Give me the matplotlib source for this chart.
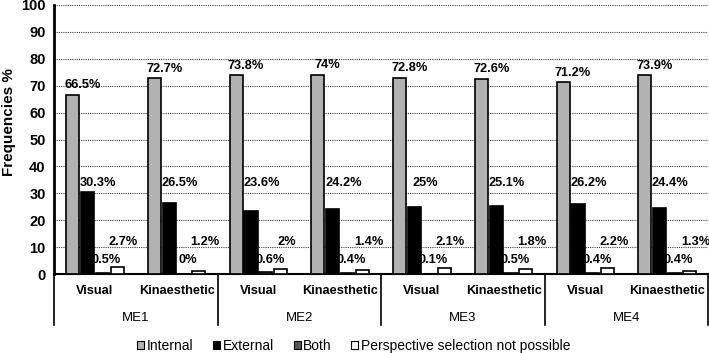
import matplotlib
matplotlib.use("Agg")
import matplotlib.pyplot as plt
import numpy as np

plt.rcParams['font.family'] = ['Liberation Sans', 'DejaVu Sans']

groups = ["ME1", "ME2", "ME3", "ME4"]
subcats = ["Visual", "Kinaesthetic"]
series = ["Internal", "External", "Both", "Perspective selection not possible"]
internal = [66.5, 72.7, 73.8, 74, 72.8, 72.6, 71.2, 73.9]
external = [30.3, 26.5, 23.6, 24.2, 25, 25.1, 26.2, 24.4]
both = [0.5, 0, 0.6, 0.4, 0.1, 0.5, 0.4, 0.4]
perspective = [2.7, 1.2, 2, 1.4, 2.1, 1.8, 2.2, 1.3]
yticks = [0, 10, 20, 30, 40, 50, 60, 70, 80, 90, 100]

values = [internal, external, both, perspective]
colors = ["#b2b2b2", "#000000", "#595959", "#ffffff"]

fig = plt.figure(figsize=(7.09, 3.53), dpi=100)
ax = fig.add_axes([54/709, 1-274/353, (708-54)/709, (274-5)/353])

n = len(internal)
x = np.arange(n)
pitch = 0.181
width = 0.16
offsets = [-1.5, -0.5, 0.5, 1.5]

ax.set_ylim(0, 100)
ax.set_xlim(-0.5, n - 0.5)
ax.set_yticks(yticks)
ax.set_yticklabels([str(t) for t in yticks], fontweight='bold', fontsize=10.5)
ax.tick_params(axis='y', length=0, pad=6)
ax.set_xticks([])
for t in yticks[1:]:
    ax.axhline(t, color='#404040', lw=0.8, ls=(0, (1, 1)), zorder=0)

for s, vals in enumerate(values):
    ax.bar(x + offsets[s]*pitch, vals, width, color=colors[s], edgecolor='black',
           linewidth=1.2, zorder=3, label=series[s])

# value labels
label_dx = [0.12, 0.13, 0.05, 0.08]
fs = 9.2
for i in range(n):
    ax.text(x[i] + offsets[0]*pitch + label_dx[0], internal[i] + 3.6, f"{internal[i]:g}%",
            ha='center', va='center', fontsize=fs, fontweight='bold')
    ax.text(x[i] + offsets[1]*pitch + label_dx[1], 33.8, f"{external[i]:g}%",
            ha='center', va='center', fontsize=fs, fontweight='bold')
    ax.text(x[i] + offsets[2]*pitch + label_dx[2], 5.3, f"{both[i]:g}%",
            ha='center', va='center', fontsize=fs, fontweight='bold')
    ax.text(x[i] + offsets[3]*pitch + label_dx[3], 12.0, f"{perspective[i]:g}%",
            ha='center', va='center', fontsize=fs, fontweight='bold')

for sp in ['top', 'right']:
    ax.spines[sp].set_visible(False)
ax.spines['left'].set_linewidth(2)
ax.spines['bottom'].set_linewidth(1.5)

# multi-level x labels
trans = ax.get_xaxis_transform()
px = 1/269  # one pixel in axes fraction (vertical)
for i in range(n):
    ax.text(x[i], -17*px, subcats[i % 2], transform=trans, ha='center', va='center',
            fontsize=9.2, fontweight='bold')
for g in range(len(groups)):
    ax.text(2*g + 0.5, -44*px, groups[g], transform=trans, ha='center', va='center',
            fontsize=9.5)
for b in range(len(groups) + 1):
    xb = 2*b - 0.5
    ax.plot([xb, xb], [0, -51*px], transform=trans, color='black', lw=1.2,
            clip_on=False)

leg = fig.legend(loc='center', bbox_to_anchor=(354/709, 1-346/353), ncol=4,
                 frameon=False, fontsize=10, handlelength=0.5, handleheight=0.5,
                 handletextpad=0.2, columnspacing=1.4, borderpad=0)
for h in leg.legend_handles:
    h.set_linewidth(0.8)

fig.text(9/709, 1-122/353, "Frequencies %", rotation=90, ha='center', va='center',
         fontsize=11, fontweight='bold')

fig.savefig("out.png", dpi=100)
